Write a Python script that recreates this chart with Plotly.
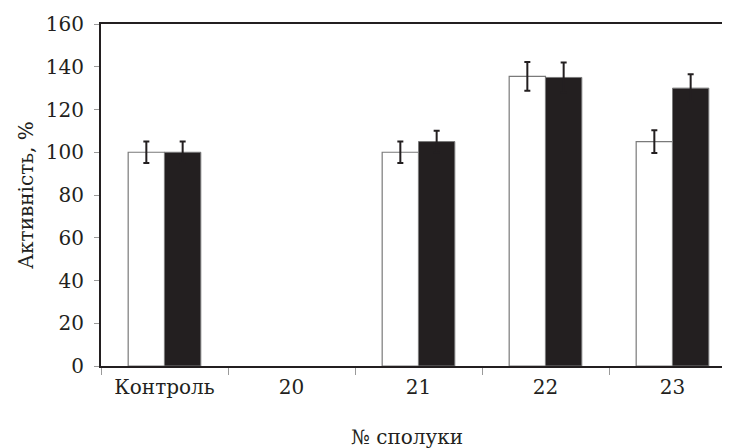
import plotly.graph_objects as go

categories = ["Контроль", "20", "21", "22", "23"]
white_vals = [100, None, 100, 135.5, 105]
black_vals = [100, None, 105, 135, 130]
white_err = [5, None, 5, 6.7, 5.3]
black_err = [5, None, 5, 7, 6.5]

ink = "#231f20"
font_family = "DejaVu Serif, serif"
fs = 20

fig = go.Figure()
fig.add_trace(go.Bar(
    x=categories, y=white_vals,
    marker=dict(color="white", line=dict(color="#7a7a7a", width=1.2)),
    error_y=dict(type="data", array=white_err, visible=True, color=ink, thickness=2, width=3),
    showlegend=False,
))
fig.add_trace(go.Bar(
    x=categories, y=black_vals,
    marker=dict(color=ink, line=dict(color="#7a7a7a", width=1)),
    error_y=dict(type="data", array=black_err, visible=True, color=ink, thickness=2, width=3),
    showlegend=False,
))

fig.update_layout(
    width=730, height=448,
    margin=dict(l=93, r=2, t=16, b=90, autoexpand=False),
    paper_bgcolor="white", plot_bgcolor="white",
    barmode="group", bargap=0.428, bargroupgap=0,
    font=dict(family=font_family, size=fs, color=ink),
    xaxis=dict(
        type="category", automargin=False,
        range=[-0.5, 4.5],
        showline=True, linecolor=ink, linewidth=2, mirror=True,
        ticks="outside", tickson="boundaries", ticklen=7, tickcolor="#9a9a9a", tickwidth=1,
        showgrid=False, zeroline=False, ticklabelstandoff=2,
    ),
    yaxis=dict(
        automargin=False,
        range=[0, 160], tickvals=[0, 20, 40, 60, 80, 100, 120, 140, 160],
        showline=True, linecolor=ink, linewidth=2,
        ticks="outside", ticklen=5, tickcolor="#9a9a9a", tickwidth=1,
        showgrid=False, zeroline=False, ticklabelstandoff=6,
    ),
    annotations=[
        dict(text="№ сполуки", xref="paper", yref="paper", x=0.482, y=-0.2076,
             xanchor="center", yanchor="middle", showarrow=False, font=dict(size=fs)),
        dict(text="Активність, %", xref="paper", yref="paper", x=-0.118, y=0.5,
             xanchor="center", yanchor="middle", textangle=-90, showarrow=False,
             font=dict(size=fs)),
    ],
)

fig.write_html("out.html")
